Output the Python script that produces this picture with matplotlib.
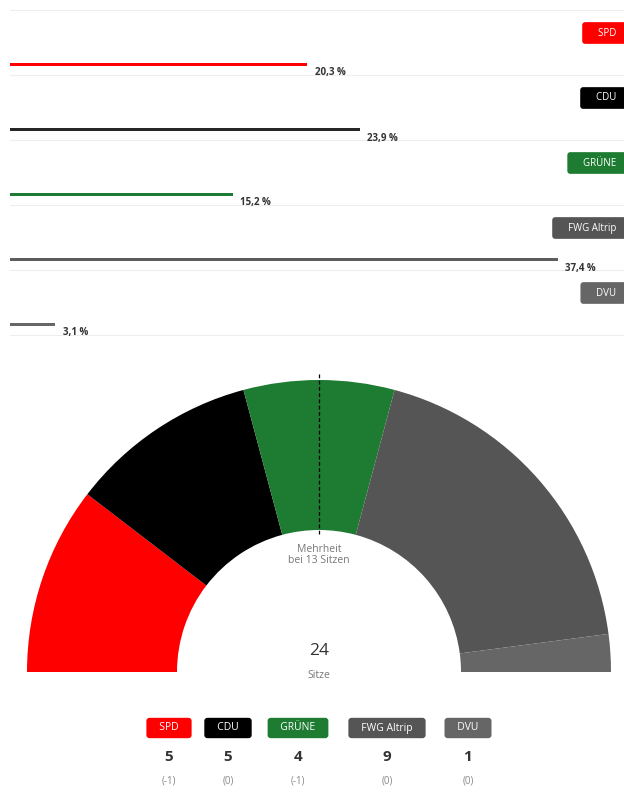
import matplotlib.pyplot as plt
import numpy as np

plt.rcParams["font.family"] = ["Open Sans", "DejaVu Sans"]

parties = ["SPD", "CDU", "GRÜNE", "FWG Altrip", "DVU"]
votes = [20.3, 23.9, 15.2, 37.4, 3.1]
seats = [5, 5, 4, 9, 1]
changes = ["(-1)", "(0)", "(-1)", "(0)", "(0)"]
majority = 13

bar_colors = ["#ff0000", "#262626", "#1e7b32", "#5c5c5c", "#666666"]
seat_colors = ["#ff0000", "#000000", "#1e7b32", "#555555", "#666666"]
badge_colors = ["#ff0000", "#000000", "#1e7b32", "#555555", "#666666"]

W, H = 624, 794
fig = plt.figure(figsize=(W / 100, H / 100), dpi=100)


def px_axes(x0, y0, x1, y1):
    # axes from pixel box (top-left origin)
    return fig.add_axes([x0 / W, 1 - y1 / H, (x1 - x0) / W, (y1 - y0) / H])


# ---- vote share bars ----
ax = px_axes(10, 0, 624, 340)
row_h = 65
top_off = 64
ax.set_xlim(0, 614 / 14.65)
ax.set_ylim((340 - top_off) / row_h, -top_off / row_h)
ax.axis("off")

y = np.arange(len(parties))
ax.barh(y, votes, height=3 / row_h, color=bar_colors, zorder=3)
for i in range(len(parties) + 1):
    ax.axhline(i - 54 / row_h, color="#eeeeee", lw=0.8, zorder=1)
for i, (p, v) in enumerate(zip(parties, votes)):
    ax.text(v + 0.5, i + 9 / row_h, f"{v:.1f} %".replace(".", ","),
            fontsize=7, fontweight="bold", color="#333333",
            ha="left", va="center")
    # badge runs past the right edge, as in the original
    ax.text(0.995, i - 31 / row_h, "    " + p + "  ",
            transform=ax.get_yaxis_transform(),
            fontsize=7, color="white", ha="right", va="center",
            bbox=dict(boxstyle="round,pad=0.55,rounding_size=0.3",
                      fc=badge_colors[i], ec="none"))

# ---- seat distribution half donut ----
ax2 = px_axes(19, 362, 619, 672)
ax2.pie(seats + [sum(seats)], colors=seat_colors + ["none"], radius=292,
        startangle=180, counterclock=False,
        wedgeprops=dict(width=150, linewidth=0))
ax2.set_xlim(-300, 300)
ax2.set_ylim(0, 310)
ax2.set_aspect("auto")
ax2.axis("off")
ax2.plot([0, 0], [138, 300], color="black", lw=0.9, ls=(0, (3, 2)))
ax2.text(0, 117, f"Mehrheit\nbei {majority} Sitzen", ha="center", va="center",
         fontsize=7.5, color="#777777", linespacing=0.9)
ax2.text(0, 21, str(sum(seats)), ha="center", va="center",
         fontsize=12.5, color="#333333")
ax2.text(0, -4, "Sitze", ha="center", va="center", fontsize=7.5,
         color="#777777")

# ---- legend ----
badge_x = [169, 228, 298, 387, 468]
for i, p in enumerate(parties):
    fx = badge_x[i] / W
    fig.text(fx, 1 - 728 / H, "   " + p + "   ", ha="center", va="center",
             fontsize=7.5, color="white",
             bbox=dict(boxstyle="round,pad=0.45,rounding_size=0.3",
                       fc=badge_colors[i], ec="none"))
    fig.text(fx, 1 - 757 / H, str(seats[i]), ha="center", va="center",
             fontsize=11, fontweight="bold", color="#333333")
    fig.text(fx, 1 - 781 / H, changes[i], ha="center", va="center",
             fontsize=7, color="#888888")

fig.savefig("out.png", dpi=100)
